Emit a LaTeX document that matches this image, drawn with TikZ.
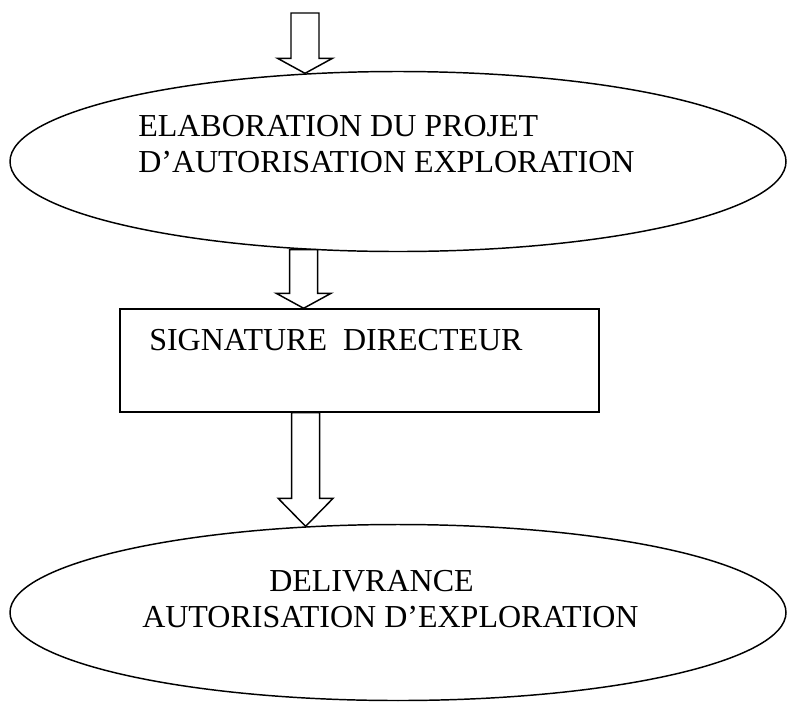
\documentclass[tikz,border=0pt]{standalone}
\usepackage{fontspec}
\setmainfont{Liberation Serif}
\usetikzlibrary{shapes.geometric,calc}
\tikzset{
  oval/.style={ellipse, draw, line width=1.1pt, inner sep=0pt, minimum width=582pt},
  box/.style={rectangle, draw, line width=1.1pt, inner sep=0pt, minimum width=359.25pt, minimum height=77.25pt},
  label/.style={anchor=base west, inner sep=0pt, font=\fontsize{24}{27}\selectfont},
  blockarrow/.style={draw, line width=1.1pt, fill=white}
}
% #1 tail (gives x and top y), #2 tip (gives y), #3 head length
\newcommand\bigarrow[3]{%
  \path[blockarrow] let \p1=(#1), \p2=(#2) in
    (\x1-10.5pt,\y1) -- (\x1+10.5pt,\y1) -- (\x1+10.5pt,\y2+#3) -- (\x1+20.6pt,\y2+#3)
    -- (\x1,\y2) -- (\x1-20.6pt,\y2+#3) -- (\x1-10.5pt,\y2+#3) -- cycle;}
\begin{document}
\begin{tikzpicture}[x=0.75pt,y=-0.75pt]
\useasboundingbox (0,0) rectangle (788,701);
\node[oval, minimum height=135pt] (e1) at (398,161.5) {};
\node[box] (sig) at (359.5,360.5) {};
\node[oval, minimum height=132pt] (e2) at (398,612.5) {};
\coordinate (in1) at (305,13);
\node[label] (t1a) at (138,136) {ELABORATION DU PROJET};
\node[label] (t1b) at (138,172) {D’AUTORISATION EXPLORATION};
\node[label] (t2) at (149,350) {SIGNATURE\ \ DIRECTEUR};
\node[label] (t3a) at (269,591) {DELIVRANCE};
\node[label] (t3b) at (142,627) {AUTORISATION D’EXPLORATION};
\bigarrow{in1}{e1.136.78}{11.25pt}
\bigarrow{e1.223.22}{sig.north}{11.25pt}
\bigarrow{sig.south -| e2.137.44}{e2.137.44}{21pt}
\end{tikzpicture}
\end{document}
